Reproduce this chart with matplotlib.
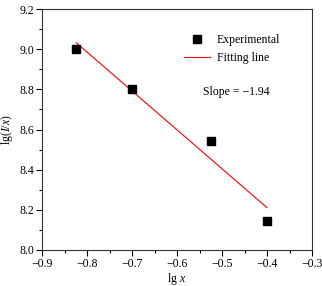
import numpy as np
import matplotlib
matplotlib.use("Agg")
import matplotlib.pyplot as plt
from matplotlib.ticker import MultipleLocator

lgx = [-0.824, -0.700, -0.524, -0.400]
lgIx = [9.000, 8.800, 8.542, 8.144]
slope_label = "Slope = \u22121.94"

plt.rcParams['font.family'] = ['Liberation Serif', 'DejaVu Serif']
plt.rcParams['mathtext.fontset'] = 'custom'
plt.rcParams['mathtext.rm'] = 'Liberation Serif'
plt.rcParams['mathtext.it'] = 'Liberation Serif:italic'
plt.rcParams['axes.unicode_minus'] = True

fig = plt.figure(figsize=(3.22, 2.86), dpi=100)
ax = fig.add_axes([42/322, 1-250/286, 270/322, 241/286])

ax.plot(lgx, lgIx, 's', color='black', markersize=5.5, label='Experimental', zorder=3)
k, b = np.polyfit(lgx, lgIx, 1)
xf = np.array([min(lgx), max(lgx)])
ax.plot(xf, k*xf + b, '-', color='red', lw=0.8, label='Fitting line')

ax.set_xlim(-0.9, -0.3)
ax.set_ylim(8.0, 9.2)
ax.xaxis.set_major_locator(MultipleLocator(0.1))
ax.xaxis.set_minor_locator(MultipleLocator(0.05))
ax.yaxis.set_major_locator(MultipleLocator(0.2))
ax.yaxis.set_minor_locator(MultipleLocator(0.1))
ax.tick_params(which='both', direction='out', top=False, right=False, labelsize=8.5, width=0.8, pad=1.5)
ax.tick_params(which='major', length=4)
ax.tick_params(which='minor', length=2.5)
for s in ax.spines.values():
    s.set_linewidth(0.8)
    s.set_color('#333333')

ax.set_xlabel(r'lg $\mathit{x}$', fontsize=8.5, labelpad=1)
ax.set_ylabel(r'lg($\mathit{I}$/$\mathit{x}$)', fontsize=8.5, labelpad=3)

leg = ax.legend(loc='upper right', bbox_to_anchor=(0.912, 0.93), frameon=False, fontsize=8.5,
                handlelength=2.2, handletextpad=0.6, labelspacing=0.5, borderaxespad=0.3)
ax.text(0.72, 0.655, slope_label, transform=ax.transAxes, ha='center', va='center', fontsize=8.5)

fig.savefig('out.png', dpi=100)
